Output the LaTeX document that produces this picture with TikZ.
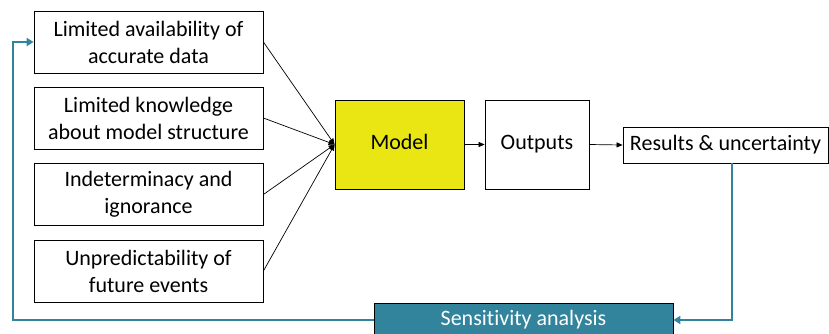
\documentclass[tikz,border=0pt]{standalone}
\usepackage{fontspec}
\setmainfont{Carlito}[Ligatures={NoCommon}]
\usetikzlibrary{arrows.meta}
\definecolor{modelyellow}{RGB}{234,230,20}
\definecolor{teal}{RGB}{49,132,155}
\begin{document}
\begin{tikzpicture}[x=1pt,y=-1pt,
  every node/.style={font=\fontsize{22}{27}\selectfont, inner sep=0pt, align=center},
  srcbox/.style={draw=black, line width=0.8pt, minimum width=229pt, minimum height=62pt},
  flowbox/.style={draw=black, line width=0.8pt, text height=16pt, text depth=5.5pt},
  feed/.style={-{Triangle[length=6pt,width=5pt]}, line width=0.7pt},
  loop/.style={-{Triangle[length=7pt,width=8pt]}, draw=teal, line width=2.4pt}]
  \clip (0,0) rectangle (829,333);
  \useasboundingbox (0,0) rectangle (829,333);

  % sources of uncertainty
  \node[srcbox] (avail) at (148.5,42) {Limited availability of\\accurate data};
  \node[srcbox] (know)  at (148.5,118) {Limited knowledge\\about model structure};
  \node[srcbox] (indet) at (148.5,194.5) {Indeterminacy and\\ignorance};
  \node[srcbox] (unpred) at (148.5,271) {Unpredictability of\\future events};

  % main chain
  \node[flowbox, fill=modelyellow, minimum width=129pt, minimum height=89pt] (model) at (399.5,144.5) {Model};
  \node[flowbox, minimum width=104pt, minimum height=89pt] (out) at (537,144.5) {Outputs};
  \node[flowbox, minimum width=205pt, minimum height=36pt] (res) at (725.5,145) {Results \& uncertainty};
  \node[flowbox, fill=teal, text=white, minimum width=299pt, minimum height=34pt] (sens) at (523.5,320) {Sensitivity analysis};

  \foreach \s in {avail,know,indet,unpred}
    \draw[feed] (\s.east) -- (model.west);
  \draw[feed] (model.east) -- (out.west);
  \draw[feed] (out.east) -- (res.west);

  % feedback loop
  \coordinate (down) at (732,320);
  \coordinate (lowleft) at (13,320);
  \coordinate (upleft) at (13,42);
  \draw[loop] (res.south -| down) -- (down) -- (sens.east);
  \draw[loop] (sens.west) -- (lowleft) -- (upleft) -- (avail.west);
\end{tikzpicture}
\end{document}
